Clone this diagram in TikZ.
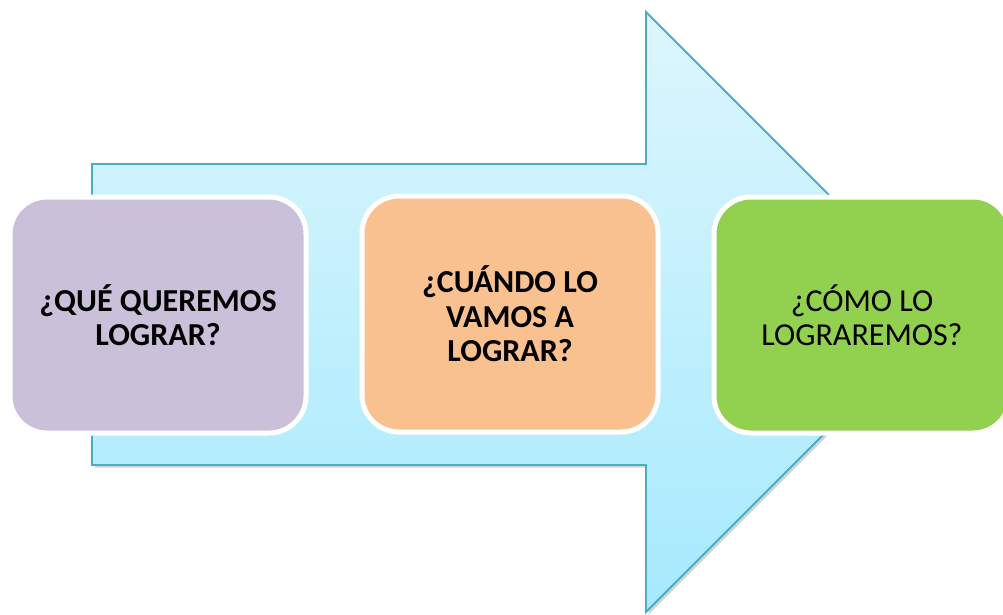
\documentclass[tikz,border=0pt]{standalone}
\usepackage{fontspec}
\setmainfont{Carlito}
\usetikzlibrary{shadows}
\definecolor{arrowtop}{HTML}{DDF6FD}
\definecolor{arrowbot}{HTML}{A6EAFD}
\definecolor{arrowline}{HTML}{4BACC6}
\definecolor{boxpurple}{HTML}{CBC0DA}
\definecolor{boxorange}{HTML}{F9C190}
\definecolor{boxgreen}{HTML}{92D050}
\tikzset{
  card/.style={rectangle, rounded corners=37pt, draw=white, line width=5pt,
    minimum width=296pt, minimum height=236pt, align=center,
    font=\fontsize{32}{34.5}\selectfont, text=black, inner sep=0pt},
  bigarrow/.style={draw=arrowline, line width=1.8pt, top color=arrowtop, bottom color=arrowbot,
    drop shadow={opacity=0.35, shadow xshift=2.5pt, shadow yshift=-2.5pt}}
}
\begin{document}
\begin{tikzpicture}[x=1pt,y=-1pt]
\useasboundingbox (0,0) rectangle (1003,615);
\begin{scope}
\clip (0,0) rectangle (1003,615);
\coordinate (s1) at (92,164);
\coordinate (s2) at (646,164);
\coordinate (h1) at (646,12);
\coordinate (tip) at (946,312);
\coordinate (h2) at (646,612);
\coordinate (s3) at (646,465);
\coordinate (s4) at (92,465);
\path[bigarrow] (s1) -- (s2) -- (h1) -- (tip) -- (h2) -- (s3) -- (s4) -- cycle;
\node[card, fill=boxpurple] (b1) at (158,315) {\bfseries ¿QUÉ QUEREMOS\\\bfseries LOGRAR?};
\node[card, fill=boxorange] (b2) at (510,314) {\bfseries ¿CUÁNDO LO\\\bfseries VAMOS A\\\bfseries LOGRAR?};
\node[card, fill=boxgreen] (b3) at (862,315) {¿CÓMO LO\\LOGRAREMOS?};
\end{scope}
\end{tikzpicture}
\end{document}
